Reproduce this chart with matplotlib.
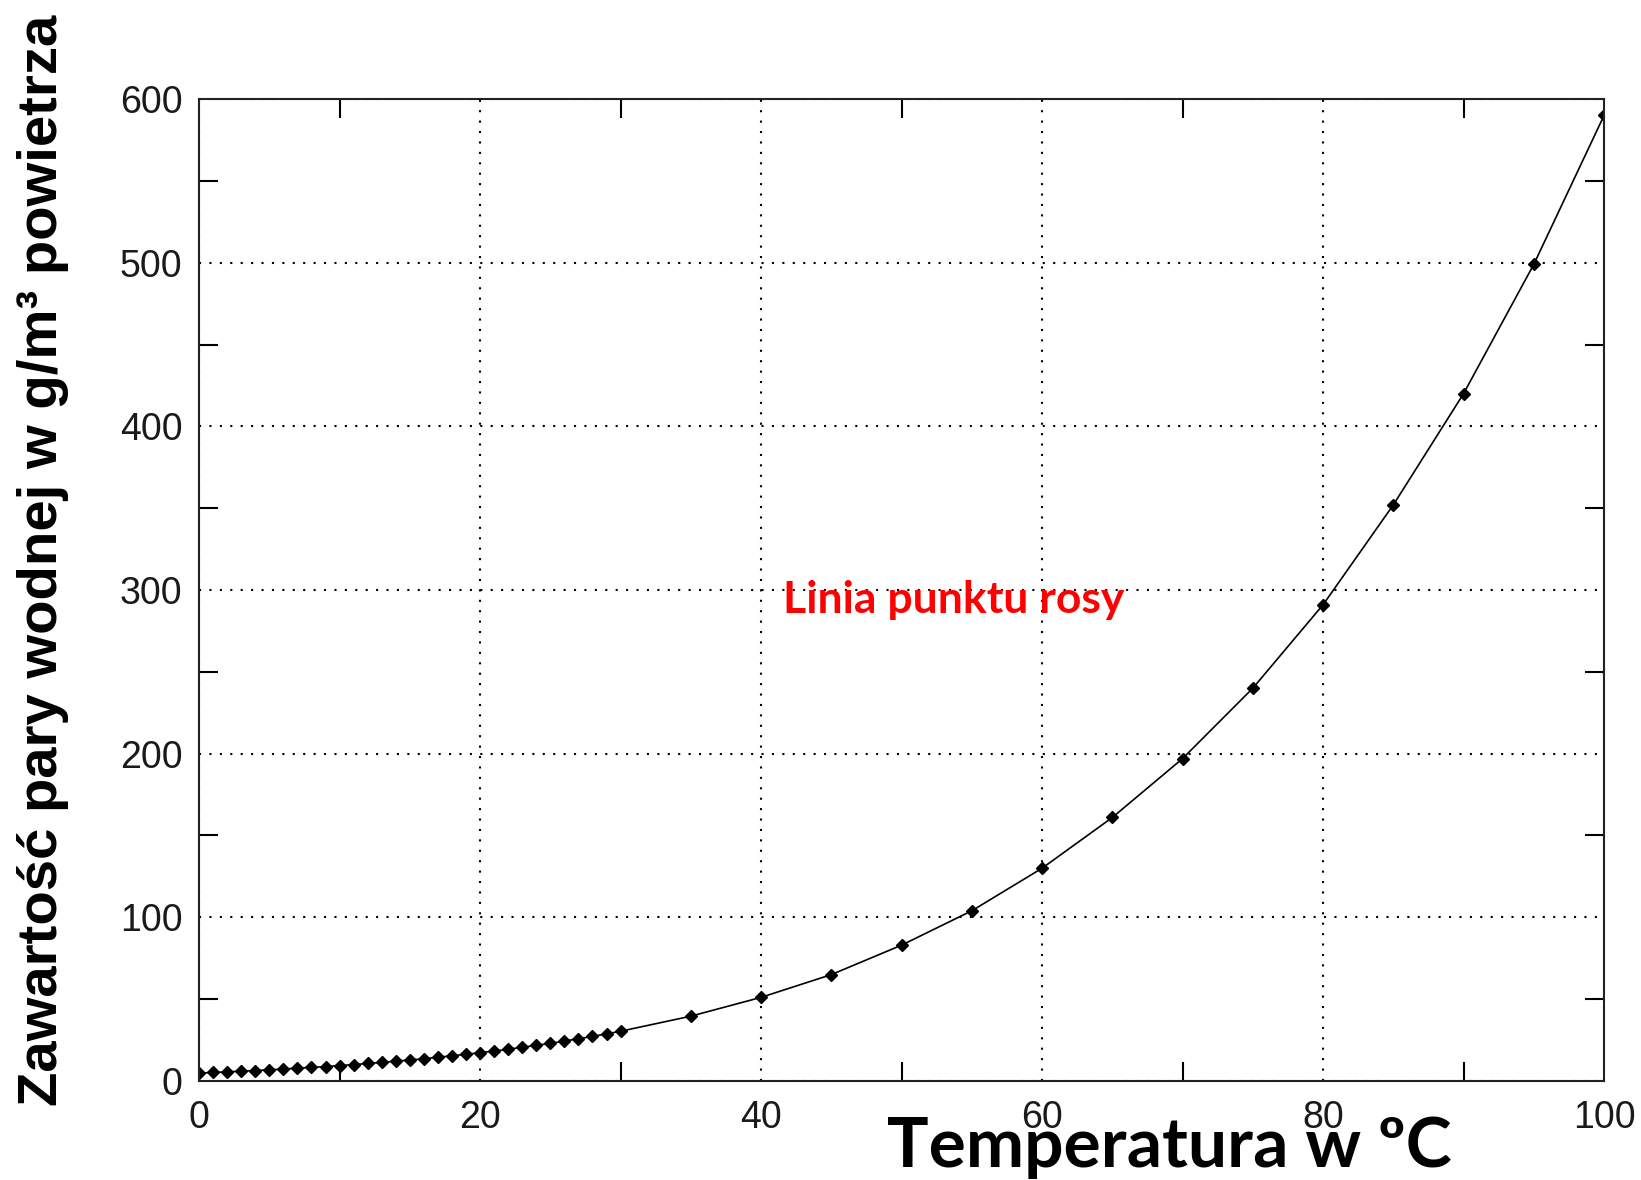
import matplotlib
matplotlib.use("Agg")
import matplotlib.pyplot as plt
from matplotlib.ticker import MultipleLocator

# temperature (C) and saturated water vapour content (g/m3)
temps = list(range(0, 31)) + [35, 40, 45, 50, 55, 60, 65, 70, 75, 80, 85, 90, 95, 100]
vapour = [4.8, 5.2, 5.6, 6.0, 6.4, 6.8, 7.3, 7.8, 8.3, 8.8,
          9.4, 10.0, 10.7, 11.4, 12.1, 12.8, 13.6, 14.5, 15.4, 16.3,
          17.3, 18.3, 19.4, 20.6, 21.8, 23.0, 24.4, 25.8, 27.2, 28.8,
          30.4, 39.6, 51.1, 65.0, 83.0, 104.0, 130.0, 161.0, 197.0, 240.0,
          291.0, 352.0, 420.0, 499.0, 590.0]

x_ticks = [0, 20, 40, 60, 80, 100]
y_ticks = [0, 100, 200, 300, 400, 500, 600]

xlabel = "Temperatura w ºC"
ylabel = "Zawartość pary wodnej w g/m³ powietrza"
note = "Linia punktu rosy"

fig = plt.figure(figsize=(16.41, 11.80), dpi=100)
ax = fig.add_axes([0.1213, 0.0839, 0.8562, 0.8322])

ax.plot(temps, vapour, color="black", linewidth=1.2, marker="D",
        markersize=6.5, markerfacecolor="black", markeredgecolor="black")

ax.set_xlim(0, 100)
ax.set_ylim(0, 600)
ax.set_xticks(x_ticks)
ax.set_yticks(y_ticks)
ax.xaxis.set_minor_locator(MultipleLocator(10))
ax.yaxis.set_minor_locator(MultipleLocator(50))

# only the minor ticks show as inward marks, major ones carry labels + grid
ax.tick_params(which="major", length=0, labelsize=27, labelcolor="#1a1a1a",
               top=True, right=True)
ax.tick_params(axis="x", which="major", pad=14)
ax.tick_params(axis="y", which="major", pad=12)
ax.tick_params(which="minor", direction="in", length=14, width=1.5,
               top=True, right=True, color="black")
for lab in ax.get_xticklabels() + ax.get_yticklabels():
    lab.set_family("Liberation Sans")

ax.grid(True, which="major", linestyle=(0, (1, 4)), linewidth=1.5, color="black")
for s in ax.spines.values():
    s.set_linewidth(1.5)
    s.set_color("#222222")

ax.text(53.7, 294, note, color="red", fontsize=32, fontweight="bold",
        family="Lato", ha="center", va="center")

fig.text(0.7125, 0.011, xlabel, fontsize=50, fontweight="bold", family="Lato",
         ha="center", va="baseline")
fig.text(0.026, 0.525, ylabel, fontsize=40.5, fontweight="bold",
         family=["Liberation Sans Narrow", "Liberation Sans"],
         rotation=90, ha="center", va="center")

fig.savefig("out.png", dpi=100)
